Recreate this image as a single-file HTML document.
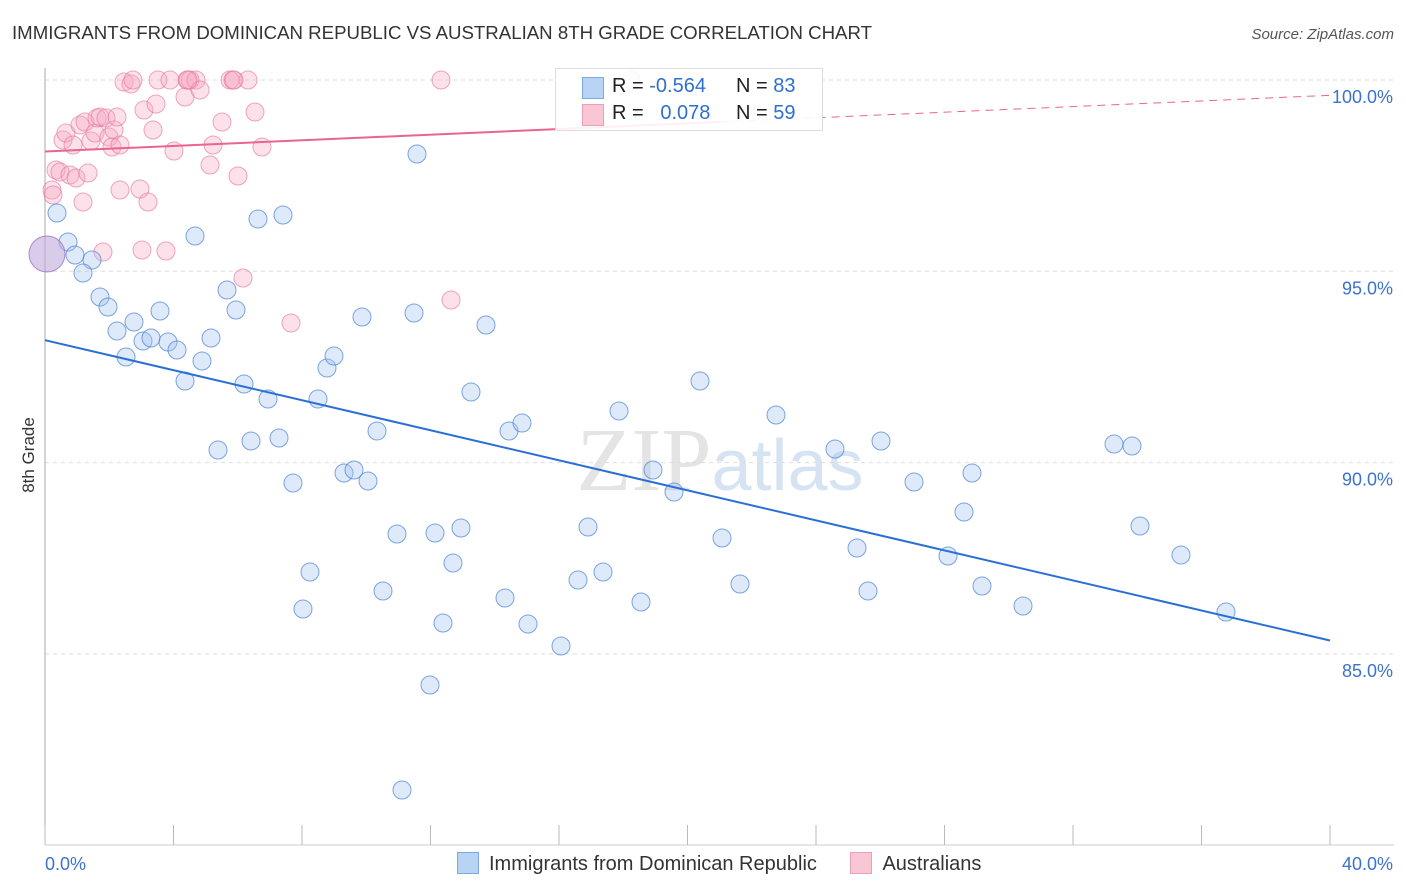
<!DOCTYPE html>
<html><head><meta charset="utf-8"><style>
body{margin:0;background:#fff;font-family:"Liberation Sans",sans-serif}
</style></head><body>
<svg id="c" width="1406" height="892" style="display:block">
<text x="12" y="39" font-size="18" fill="#333" textLength="860" lengthAdjust="spacingAndGlyphs">IMMIGRANTS FROM DOMINICAN REPUBLIC VS AUSTRALIAN 8TH GRADE CORRELATION CHART</text>
<text x="1394" y="39" font-size="15" fill="#555" font-style="italic" text-anchor="end">Source: ZipAtlas.com</text>
<text x="34" y="455" font-size="17" fill="#333" text-anchor="middle" transform="rotate(-90 34 455)">8th Grade</text>
<text x="720" y="490" font-size="90" fill="#e4e4e4" text-anchor="middle" font-family="Liberation Serif,serif">ZIP<tspan fill="#d6e3f3" font-family="Liberation Sans,sans-serif" font-size="72">atlas</tspan></text>
<g id="grid"></g><g id="marks"></g>
</svg>
<script>
const xTicks=[0,40];
const yTicks=[100,95,90,85];
const blueX=[57,68,75,92,83,100,108,117,134,126,143,151,160,168,177,185,195,202,211,218,227,236,244,251,258,268,279,283,293,303,310,318,327,334,344,354,362,368,377,383,397,414,417,430,435,443,453,461,471,486,505,509,522,528,561,578,588,603,619,641,653,674,700,722,740,776,835,857,868,881,914,948,964,972,982,1023,1114,1132,1140,1181,1226,402].map(p=>(p-45)*40/1285);
const blueY=[213,242,255,260,273,297,307,331,322,357,341,338,311,342,350,381,236,361,338,450,290,310,384,441,219,399,438,215,483,609,572,399,368,356,473,470,317,481,431,591,534,313,154,685,533,623,563,528,392,325,598,431,423,624,646,580,527,572,411,602,470,492,381,538,584,415,449,548,591,441,482,556,512,473,586,606,444,446,526,555,612,790].map(p=>100-(p-80)*5/191.3);
const pinkX=[52,53,56,60,63,66,70,73,76,80,83,85,88,91,95,97,100,103,106,109,112,114,117,120,124,131,133,140,142,144,148,153,156,158,166,170,174,185,187,190,196,200,210,213,222,230,233,238,243,248,255,262,291,441,451,631,234,188,120].map(p=>(p-45)*40/1285);
const pinkY=[190,195,170,172,140,133,175,145,178,125,202,122,173,141,133,118,117,252,118,137,147,130,117,190,82,84,80,189,250,110,202,130,104,80,251,80,151,97,80,80,80,90,165,145,122,80,80,176,278,80,112,147,323,80,300,80,80,80,145].map(p=>100-(p-80)*5/191.3);
const blueTrend=[0,93.2,40,85.35];
const pinkTrend=[0,98.13,40,99.6];
const X=v=>45+v*1285/40, Y=v=>80+(100-v)*191.3/5;
const NS='http://www.w3.org/2000/svg';
function mk(t,a,p){const e=document.createElementNS(NS,t);for(const k in a)e.setAttribute(k,a[k]);p.appendChild(e);return e;}
const g=document.getElementById('grid'),m=document.getElementById('marks');
yTicks.forEach(v=>{
 const l=mk('line',{x1:45,x2:1394,y1:Y(v),y2:Y(v),stroke:'#ddd','stroke-dasharray':'4,4'},g);
 
 
 const t=mk('text',{x:1393,y:Y(v)+23,'font-size':18,fill:'#3b73cc','text-anchor':'end'},g);t.textContent=v.toFixed(1)+'%';
 
 
});
mk('line',{x1:45,x2:45,y1:68,y2:845,stroke:'#aaa'},g);
mk('line',{x1:45,x2:1394,y1:845,y2:845,stroke:'#ccc'},g);
for(let i=0;i<=10;i++){mk('line',{x1:X(i*4),x2:X(i*4),y1:825,y2:845,stroke:'#bbb'},g);}
xTicks.forEach((v,i)=>{const t=mk('text',{x:i?1393:45,y:870,'font-size':18,fill:'#3b73cc','text-anchor':i?'end':'start'},g);t.textContent=v.toFixed(1)+'%';
 
 });
pinkX.forEach((x,i)=>{const c=mk('circle',{cx:X(x),cy:Y(pinkY[i]),r:9,fill:'rgba(246,170,196,0.35)',stroke:'rgba(230,120,160,0.65)','stroke-width':1},m);
 
 });
blueX.forEach((x,i)=>{const c=mk('circle',{cx:X(x),cy:Y(blueY[i]),r:9,fill:'rgba(160,195,240,0.35)',stroke:'rgba(60,120,210,0.65)','stroke-width':1},m);
 
 });
const big=mk('circle',{cx:47,cy:254,r:18,fill:'rgba(190,170,220,0.6)',stroke:'rgba(150,100,180,0.7)'},m);


const bl=mk('line',{x1:X(blueTrend[0]),y1:Y(blueTrend[1]),x2:X(blueTrend[2]),y2:Y(blueTrend[3]),stroke:'#2a6fd6','stroke-width':2},m);


const pk=v=>pinkTrend[1]+(pinkTrend[3]-pinkTrend[1])*v/40;
const pl=mk('line',{x1:X(0),y1:Y(pk(0)),x2:X(21),y2:Y(pk(21)),stroke:'#e9658f','stroke-width':2},m);


const pd=mk('line',{x1:X(21),y1:Y(pk(21)),x2:X(40),y2:Y(pk(40)),stroke:'#e9658f','stroke-width':1,'stroke-dasharray':'8,6'},m);


</script>
<div style="position:absolute;left:555px;top:68px;width:266px;height:61px;border:1px solid #ddd;background:rgba(255,255,255,0.9);font-size:20px;color:#222">
 <div style="position:absolute;left:26px;top:8px;width:20px;height:20px;background:#b9d3f5;border:1px solid #7ea8e0"></div>
 <div style="position:absolute;left:56px;top:6px">R = <span style="color:#2f6fd0">-0.564</span></div>
 <div style="position:absolute;left:180px;top:6px">N = <span style="color:#2f6fd0">83</span></div>
 <div style="position:absolute;left:26px;top:35px;width:20px;height:20px;background:#f9c6d6;border:1px solid #eba0b8"></div>
 <div style="position:absolute;left:56px;top:33px">R = &nbsp; <span style="color:#2f6fd0">0.078</span></div>
 <div style="position:absolute;left:180px;top:33px">N = <span style="color:#2f6fd0">59</span></div>
</div>
<div style="position:absolute;top:852px;left:457px;font-size:20px;color:#333;white-space:nowrap">
 <span><span style="display:inline-block;width:20px;height:20px;background:#b9d3f5;border:1px solid #7ea8e0;vertical-align:-4px;margin-right:10px"></span>Immigrants from Dominican Republic</span>
 <span style="margin-left:28px"><span style="display:inline-block;width:20px;height:20px;background:#f9c6d6;border:1px solid #eba0b8;vertical-align:-4px;margin-right:10px"></span>Australians</span>
</div>
</body></html>
